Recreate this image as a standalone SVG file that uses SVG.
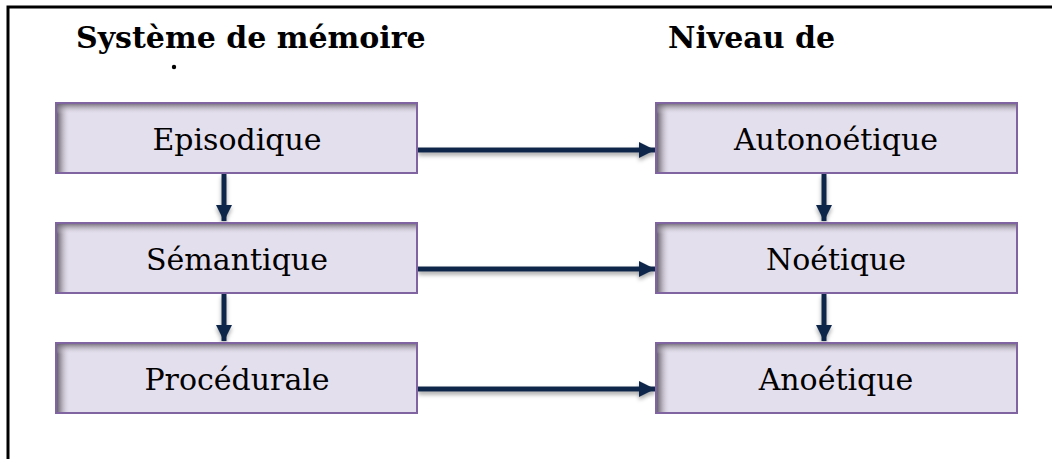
<svg xmlns="http://www.w3.org/2000/svg" width="1052" height="459" viewBox="0 0 1052 459">
<style>
.box{fill:#E4DFEC;stroke:none}
.bord{fill:none;stroke:#8064A2;stroke-width:2}
.lbl{font-family:"DejaVu Serif","Liberation Serif",serif;font-size:30px;fill:#000;text-anchor:middle}
.ttl{font-family:"DejaVu Serif","Liberation Serif",serif;font-size:30px;font-weight:bold;fill:#000}
.con{stroke:#10284A;stroke-width:5;fill:none}
</style>
<defs>
<linearGradient id="gl" x1="0" y1="0" x2="1" y2="0">
<stop offset="0" stop-color="#55505a" stop-opacity="1"/>
<stop offset="0.35" stop-color="#85808b" stop-opacity="0.7"/>
<stop offset="1" stop-color="#E4DFEC" stop-opacity="0"/>
</linearGradient>
<linearGradient id="gt" x1="0" y1="0" x2="0" y2="1">
<stop offset="0" stop-color="#5e5963" stop-opacity="0.9"/>
<stop offset="0.4" stop-color="#8a8590" stop-opacity="0.5"/>
<stop offset="1" stop-color="#E4DFEC" stop-opacity="0"/>
</linearGradient>
<marker id="ah" viewBox="0 0 10 10" refX="10" refY="5" markerWidth="3.2" markerHeight="3.4" markerUnits="strokeWidth" orient="auto">
<path d="M0,0 L10,5 L0,10 z" fill="#10284A"/>
</marker>
<filter id="sh" x="-10%" y="-100%" width="120%" height="400%">
<feDropShadow dx="0" dy="3" stdDeviation="2" flood-color="#000" flood-opacity="0.35"/>
</filter>
</defs>
<rect x="0" y="0" width="1052" height="459" fill="#fff"/>
<path d="M8,459 L8,7 L1052,7" fill="none" stroke="#000" stroke-width="3"/>
<g id="titles">
<text class="ttl" x="76" y="48">Système de mémoire</text>
<circle cx="174" cy="67" r="2.2" fill="#000"/>
<text class="ttl" x="668" y="48">Niveau de</text>
</g>
<g id="connectors" filter="url(#sh)">
<line class="con" x1="418" y1="150" x2="655" y2="150" marker-end="url(#ah)"/>
<line class="con" x1="418" y1="269" x2="655" y2="269" marker-end="url(#ah)"/>
<line class="con" x1="418" y1="389" x2="655" y2="389" marker-end="url(#ah)"/>
<line class="con" x1="224" y1="174" x2="224" y2="221" marker-end="url(#ah)"/>
<line class="con" x1="224" y1="294" x2="224" y2="341" marker-end="url(#ah)"/>
<line class="con" x1="824" y1="174" x2="824" y2="221" marker-end="url(#ah)"/>
<line class="con" x1="824" y1="294" x2="824" y2="341" marker-end="url(#ah)"/>
</g>
<g id="n-episodique">
<rect class="box" x="56" y="103" width="361" height="70"/>
<rect x="56" y="103" width="14" height="70" fill="url(#gl)"/>
<rect x="56" y="103" width="361" height="11" fill="url(#gt)"/>
<rect class="bord" x="56" y="103" width="361" height="70"/>
<text class="lbl" x="237" y="150">Episodique</text>
</g>
<g id="n-semantique">
<rect class="box" x="56" y="223" width="361" height="70"/>
<rect x="56" y="223" width="14" height="70" fill="url(#gl)"/>
<rect x="56" y="223" width="361" height="11" fill="url(#gt)"/>
<rect class="bord" x="56" y="223" width="361" height="70"/>
<text class="lbl" x="237" y="270">Sémantique</text>
</g>
<g id="n-procedurale">
<rect class="box" x="56" y="343" width="361" height="70"/>
<rect x="56" y="343" width="14" height="70" fill="url(#gl)"/>
<rect x="56" y="343" width="361" height="11" fill="url(#gt)"/>
<rect class="bord" x="56" y="343" width="361" height="70"/>
<text class="lbl" x="237" y="390">Procédurale</text>
</g>
<g id="n-autonoetique">
<rect class="box" x="656" y="103" width="361" height="70"/>
<rect x="656" y="103" width="14" height="70" fill="url(#gl)"/>
<rect x="656" y="103" width="361" height="11" fill="url(#gt)"/>
<rect class="bord" x="656" y="103" width="361" height="70"/>
<text class="lbl" x="836" y="150">Autonoétique</text>
</g>
<g id="n-noetique">
<rect class="box" x="656" y="223" width="361" height="70"/>
<rect x="656" y="223" width="14" height="70" fill="url(#gl)"/>
<rect x="656" y="223" width="361" height="11" fill="url(#gt)"/>
<rect class="bord" x="656" y="223" width="361" height="70"/>
<text class="lbl" x="836" y="270">Noétique</text>
</g>
<g id="n-anoetique">
<rect class="box" x="656" y="343" width="361" height="70"/>
<rect x="656" y="343" width="14" height="70" fill="url(#gl)"/>
<rect x="656" y="343" width="361" height="11" fill="url(#gt)"/>
<rect class="bord" x="656" y="343" width="361" height="70"/>
<text class="lbl" x="836" y="390">Anoétique</text>
</g>
</svg>
